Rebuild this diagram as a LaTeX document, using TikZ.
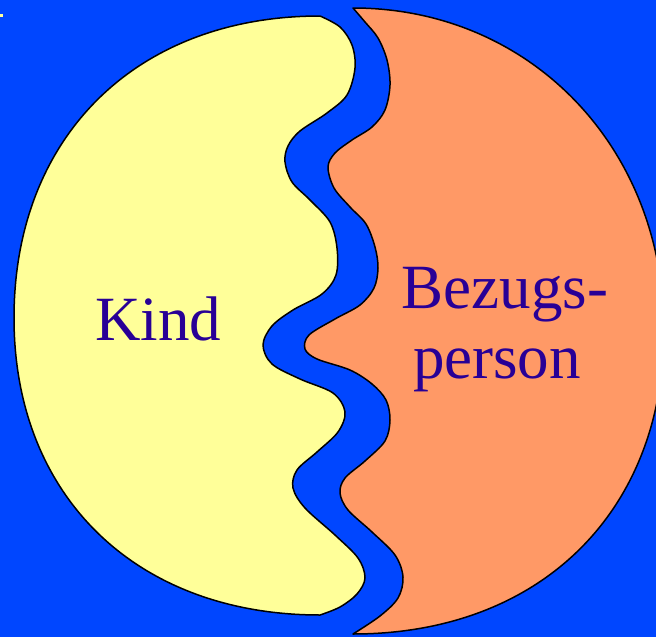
\documentclass[tikz,border=0pt]{standalone}
\usepackage{fontspec}
\setmainfont{Liberation Serif}
\begin{document}
\begin{tikzpicture}[x=1pt,y=-1pt,
  bg/.style={fill=bgblue},
  blob/.style={draw=black,line width=1.5pt,line join=round},
  lbl/.style={text=txtcol,inner sep=0pt,font=\fontsize{63}{70}\selectfont}]
\definecolor{bgblue}{RGB}{0,70,255}
\definecolor{kindyellow}{RGB}{255,255,153}
\definecolor{bezorange}{RGB}{255,153,102}
\definecolor{txtcol}{RGB}{40,0,150}
\useasboundingbox (0,0) rectangle (656,637);
\path[bg] (0,0) rectangle (656,637);
\path[fill=kindyellow] (0,14) rectangle (3,17);
% Kind (left shape)
\path[blob,fill=kindyellow] (320,615)
  .. controls (136,615) and (14,496) .. (14,318)
  .. controls (14,137) and (136,16) .. (320,16)
  -- plot[smooth,tension=0.55] coordinates {(320,16) (340,27) (352,45) (355,68) (347,95) (327,113) (300,131) (288,146) (285,162) (292,182) (310,200) (330,222) (337,248) (336,275) (322,294) (293,310) (272,326) (263,345) (272,364) (300,379) (333,393) (345,412) (338,432) (317,452) (297,470) (293,488) (305,508) (335,535) (358,558) (365,578) (357,594) (340,607) (320,615)}
  -- cycle;
% Bezugsperson (right shape)
\path[blob,fill=bezorange] (353,8)
  .. controls (530,8) and (664,147) .. (664,330)
  .. controls (664,512) and (540,634) .. (353,634)
  -- plot[smooth,tension=0.55] coordinates {(353,634) (380,616) (398,598) (403,577) (395,555) (372,532) (348,510) (340,493) (345,478) (365,461) (385,441) (390,420) (386,400) (372,384) (350,370) (317,359) (305,349) (309,335) (335,319) (360,305) (374,288) (378,268) (375,247) (366,224) (350,207) (334,188) (328,167) (335,153) (352,140) (372,127) (385,110) (390,85) (387,60) (378,38) (365,22) (353,8)}
  -- cycle;
\node[lbl,anchor=base] (kind) at (158,340) {Kind};
\node[lbl,anchor=base] (bez) at (505,308) {Bezugs-};
\node[lbl,anchor=base] (per) at (497,378) {person};
\end{tikzpicture}
\end{document}
